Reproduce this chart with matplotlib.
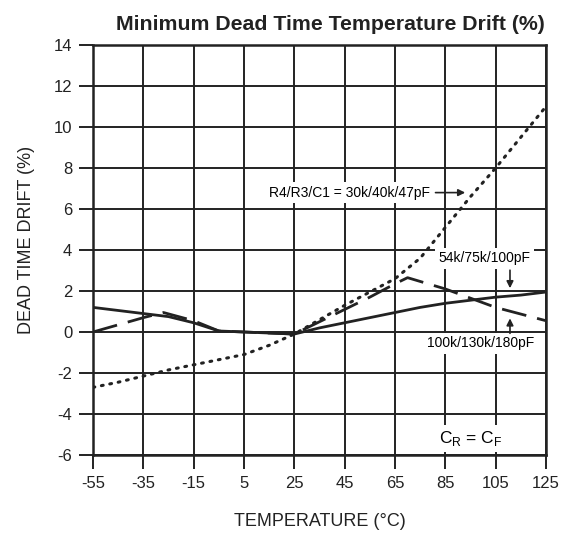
import matplotlib.pyplot as plt

plt.rcParams['font.family'] = ['Liberation Sans', 'DejaVu Sans']
plt.rcParams['axes.unicode_minus'] = False

# Datos
temps = [-55, -45, -35, -25, -15, -5, 5, 15, 25, 35, 45, 55, 65, 75, 85, 95, 105, 115, 125]

# 100k/130k/180pF (linea continua)
drift_solid = [1.2, 1.05, 0.9, 0.75, 0.45, 0.05, 0.0, -0.05, -0.1, 0.2, 0.45, 0.7,
               0.95, 1.2, 1.4, 1.55, 1.7, 1.8, 1.95]

# 54k/75k/100pF (linea discontinua)
temps_dash = [-55, -45, -35, -27, -15, -5, 5, 15, 25, 35, 45, 55, 65, 70, 85, 105, 125]
drift_dash = [0.0, 0.35, 0.7, 0.95, 0.55, 0.05, 0.0, -0.05, -0.1, 0.5, 1.1, 1.7,
              2.35, 2.65, 2.1, 1.2, 0.55]

# 30k/40k/47pF (linea punteada)
drift_dot = [-2.7, -2.45, -2.15, -1.85, -1.6, -1.35, -1.1, -0.65, -0.1, 0.6, 1.3, 1.95,
             2.6, 3.6, 5.1, 6.6, 8.0, 9.5, 11.0]

xticks = [-55, -35, -15, 5, 25, 45, 65, 85, 105, 125]
yticks = [-6, -4, -2, 0, 2, 4, 6, 8, 10, 12, 14]

fig = plt.figure(figsize=(5.72, 5.37), dpi=100)
ax = fig.add_axes([0.1626, 0.1527, 0.7919, 0.7635])

ax.plot(temps, drift_solid, color='#222222', lw=2.0, zorder=3)
ax.plot(temps_dash, drift_dash, color='#222222', lw=2.0, dashes=(9, 4), zorder=3)
ax.plot(temps, drift_dot, color='#222222', lw=2.2, linestyle=(0, (0.6, 2.2)),
        dash_capstyle='round', zorder=3)

ax.set_xlim(-55, 125)
ax.set_ylim(-6, 14)
ax.set_xticks(xticks)
ax.set_yticks(yticks)
ax.grid(True, color='#222222', lw=1.4)
for s in ax.spines.values():
    s.set_linewidth(1.8)
    s.set_color('#222222')
ax.tick_params(direction='out', length=10, width=1.4, labelsize=12, pad=5,
               colors='#222222')

ax.set_xlabel("TEMPERATURE (°C)", fontsize=13, labelpad=16, color='#222222')
ax.set_ylabel("DEAD TIME DRIFT (%)", fontsize=13, color='#222222')
ax.yaxis.set_label_coords(-0.128, 0.524)
ax.set_title("Minimum Dead Time Temperature Drift (%)", fontsize=15.3, fontweight='bold',
             pad=11, x=0.523, color='#222222')

caja = dict(facecolor='white', edgecolor='none', pad=2.5)

ax.text(79, 6.8, "R4/R3/C1 = 30k/40k/47pF", ha='right', va='center', fontsize=10,
        bbox=caja, zorder=4)
ax.annotate("", xy=(94, 6.8), xytext=(80, 6.8),
            arrowprops=dict(arrowstyle='-|>', color='#222222', lw=1.2), zorder=4)

ax.text(100.5, 3.6, "54k/75k/100pF", ha='center', va='center', fontsize=10,
        bbox=caja, zorder=4)
ax.annotate("", xy=(110.7, 2.0), xytext=(110.7, 3.15),
            arrowprops=dict(arrowstyle='-|>', color='#222222', lw=1.2), zorder=4)

ax.text(99, -0.55, "100k/130k/180pF", ha='center', va='center', fontsize=10,
        bbox=caja, zorder=4)
ax.annotate("", xy=(110.7, 0.8), xytext=(110.7, -0.2),
            arrowprops=dict(arrowstyle='-|>', color='#222222', lw=1.2), zorder=4)

ax.text(95, -5.2, r"C$_\mathregular{R}$ = C$_\mathregular{F}$", ha='center', va='center',
        fontsize=12.5, bbox=dict(facecolor='white', edgecolor='none', pad=3), zorder=4)

plt.savefig('out.png', dpi=100)
